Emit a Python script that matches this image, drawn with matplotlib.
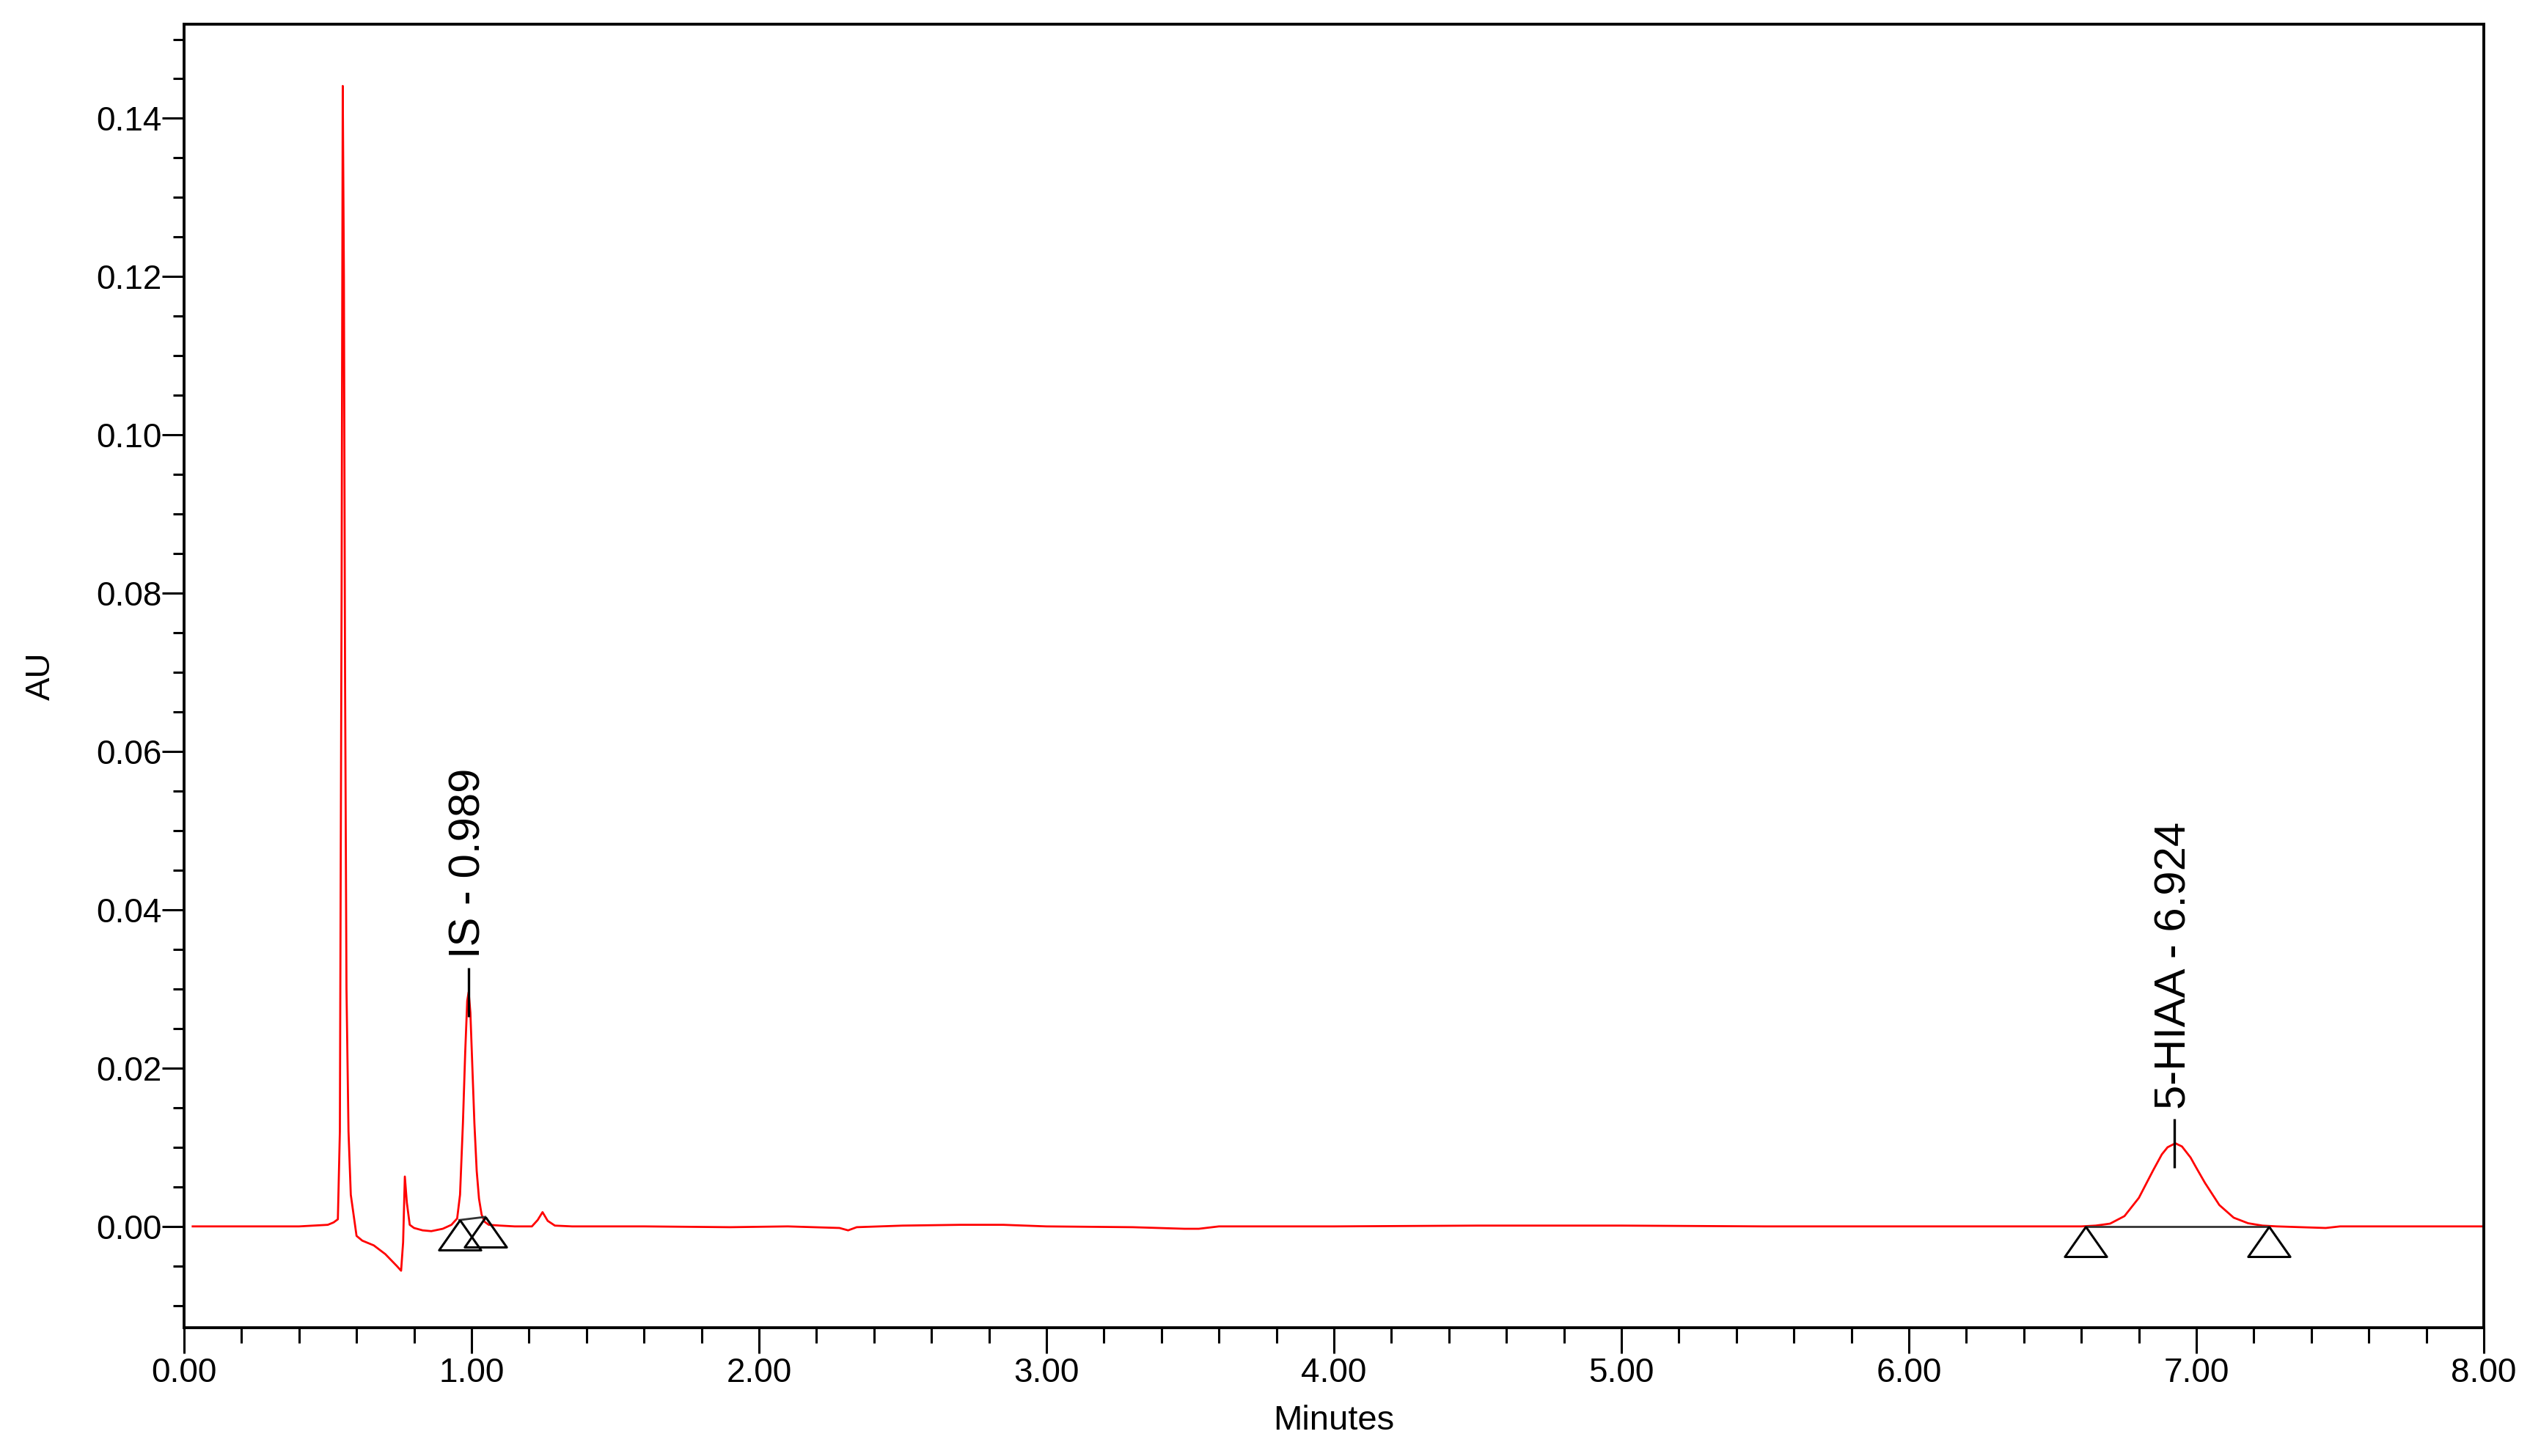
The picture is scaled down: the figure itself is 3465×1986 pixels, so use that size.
import matplotlib
matplotlib.use("Agg")
import matplotlib.pyplot as plt
from matplotlib.ticker import MultipleLocator, FormatStrFormatter

plt.rcParams['font.family'] = ['Liberation Sans', 'DejaVu Sans']

# ---- chromatogram trace ----
time_min = [0.03, 0.20, 0.40, 0.50, 0.52, 0.535, 0.542, 0.548, 0.552, 0.556,
            0.560, 0.565, 0.572, 0.580, 0.600, 0.620, 0.660, 0.700, 0.740, 0.755,
            0.762, 0.768, 0.775, 0.785, 0.80, 0.83, 0.86, 0.90, 0.93, 0.950,
            0.960, 0.970, 0.978, 0.985, 0.990, 0.996, 1.003, 1.010, 1.018, 1.026,
            1.035, 1.045, 1.06, 1.10, 1.15, 1.21, 1.23, 1.247, 1.265, 1.29,
            1.35, 1.60, 1.90, 2.10, 2.28, 2.31, 2.34, 2.50, 2.70, 2.85,
            3.00, 3.30, 3.48, 3.53, 3.60, 4.00, 4.50, 5.00, 5.50, 6.00,
            6.40, 6.60, 6.65, 6.70, 6.75, 6.80, 6.85, 6.88, 6.90, 6.927,
            6.95, 6.98, 7.00, 7.03, 7.08, 7.13, 7.18, 7.23, 7.28, 7.45,
            7.50, 8.00]
absorbance = [0.0, 0.0, 0.0, 0.0002, 0.0005, 0.0009, 0.012, 0.080, 0.1441, 0.120,
              0.070, 0.030, 0.012, 0.004, -0.0012, -0.0018, -0.0024, -0.0035, -0.0050, -0.0056,
              -0.0020, 0.0063, 0.0030, 0.0002, -0.0002, -0.0005, -0.0006, -0.0003, 0.0002, 0.0010,
              0.004, 0.013, 0.022, 0.0285, 0.0296, 0.027, 0.020, 0.013, 0.007, 0.0035,
              0.0015, 0.0006, 0.0002, 0.0001, 0.0, 0.0, 0.0008, 0.0018, 0.0007, 0.0001,
              0.0, 0.0, -0.0001, 0.0, -0.0002, -0.0005, -0.0001, 0.0001, 0.0002, 0.0002,
              0.0, -0.0001, -0.0003, -0.0003, 0.0, 0.0, 0.0001, 0.0001, 0.0, 0.0,
              0.0, 0.0, 0.0001, 0.00035, 0.0013, 0.0036, 0.0071, 0.0091, 0.0100, 0.0105,
              0.0101, 0.0087, 0.0074, 0.0055, 0.0027, 0.0011, 0.0004, 0.0001, 0.0, -0.0002,
              0.0, 0.0]

# ---- peak annotations ----
peak_names = ['IS - 0.989', '5-HIAA - 6.924']
peak_times = [0.989, 6.924]
peak_heights = [0.0296, 0.0105]

# ---- integration baselines (start/end markers) ----
base_start_t = [0.958, 6.615]
base_start_y = [0.0008, 0.0]
base_end_t = [1.048, 7.253]
base_end_y = [0.0012, 0.0]

x_ticks = [0, 1, 2, 3, 4, 5, 6, 7, 8]
y_ticks = [0.00, 0.02, 0.04, 0.06, 0.08, 0.10, 0.12, 0.14]

W, H = 3465, 1986
fig = plt.figure(figsize=(W / 100, H / 100), dpi=100)
ax = fig.add_axes([251 / W, 1 - 1811 / H, (3387 - 251) / W, (1811 - 33) / H])

ax.plot(time_min, absorbance, color='#ff0000', lw=2.0, zorder=2)

tri = [(0, 0), (-0.7, -1), (0.7, -1), (0, 0)]
for t0, y0, t1, y1 in zip(base_start_t, base_start_y, base_end_t, base_end_y):
    ax.plot([t0, t1], [y0, y1], color='#333333', lw=2.0, zorder=3)
    ax.plot([t0, t1], [y0, y1], linestyle='none', marker=tri, markersize=59,
            markerfacecolor='none', markeredgecolor='black', markeredgewidth=2.2,
            zorder=4)

for name, t, h in zip(peak_names, peak_times, peak_heights):
    ax.vlines(t, h - 0.0031, h + 0.0031, color='black', lw=2.4, zorder=4)
    ax.text(t, h + 0.0043, name, rotation=90, ha='center', va='bottom',
            fontsize=43, color='black', zorder=5)

ax.set_xlim(0, 8)
ax.set_ylim(-0.0128, 0.1519)
ax.set_xticks(x_ticks)
ax.set_yticks(y_ticks)
ax.xaxis.set_minor_locator(MultipleLocator(0.2))
ax.yaxis.set_minor_locator(MultipleLocator(0.005))
ax.xaxis.set_major_formatter(FormatStrFormatter('%.2f'))
ax.yaxis.set_major_formatter(FormatStrFormatter('%.2f'))

for s in ax.spines.values():
    s.set_linewidth(2.8)
    s.set_color('black')

ax.tick_params(axis='both', which='both', direction='out', width=2.2,
               labelsize=33, colors='black', top=False, right=False)
ax.tick_params(axis='x', which='major', length=25, pad=4)
ax.tick_params(axis='x', which='minor', length=15)
ax.tick_params(axis='y', which='major', length=21.6, pad=0.5)
ax.tick_params(axis='y', which='minor', length=10.8)

ax.set_xlabel('Minutes', fontsize=34)
ax.set_ylabel('AU', fontsize=34)
ax.xaxis.set_label_coords(0.5, -0.059)
ax.yaxis.set_label_coords((78 - 251) / 3136, 0.5)

fig.savefig('out.png', dpi=100, facecolor='white')
